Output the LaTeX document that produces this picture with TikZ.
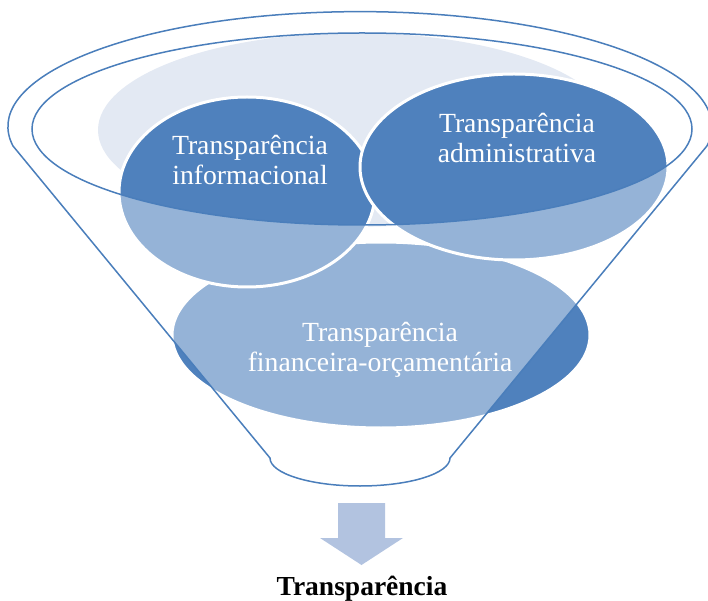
\documentclass[tikz,border=0pt]{standalone}
\usepackage{fontspec}
\setmainfont{Liberation Serif}
\usetikzlibrary{shapes.geometric, positioning}
\definecolor{funnelblue}{HTML}{4F81BD}
\definecolor{funnelline}{HTML}{4A7EBB}
\definecolor{funnelback}{HTML}{E3E9F3}
\definecolor{arrowblue}{HTML}{B2C3E0}

\begin{document}
\begin{tikzpicture}[
        x=1pt, y=1pt,
        bubble/.style={ellipse, fill=funnelblue, draw=white, line width=3pt, inner sep=0pt},
        bubble text/.style={text=white, align=center, inner sep=0pt, font=\fontsize{27.7}{30}\selectfont},
        rim/.style={draw=funnelline, line width=1.5pt}
      ]
      \useasboundingbox (0,0) rectangle (708,600);
      % Back of the funnel
      \fill[funnelback] (355,470) ellipse [x radius=257pt, y radius=97pt];

      % Bubbles
      \node[bubble, minimum width=418pt, minimum height=186pt] (fin) at (381,265) {};
      \node[bubble, minimum width=256pt, minimum height=190pt] (info) at (247,408) {};
      \node[bubble, minimum width=308pt, minimum height=186pt] (adm) at (514,433) {};

      % Funnel glass
      \fill[white, fill opacity=0.4, even odd rule]
        (13,454) arc[start angle=189.7, end angle=-9.7, x radius=352pt, y radius=115pt]
        -- (450,142) arc[start angle=0, end angle=-180, x radius=90pt, y radius=28pt] -- cycle
        (362,471) ellipse [x radius=330pt, y radius=96pt];
      \draw[rim]
        (13,454) arc[start angle=189.7, end angle=-9.7, x radius=352pt, y radius=115pt]
        -- (450,142) arc[start angle=0, end angle=-180, x radius=90pt, y radius=28pt] -- cycle;
      \draw[rim] (362,471) ellipse [x radius=330pt, y radius=96pt];

      % Labels
      \node[bubble text] (info text) at (250,439.5) {Transparência\\informacional};
      \node[bubble text] (adm text) at (517,461.5) {Transparência\\administrativa};
      \node[bubble text] (fin text) at (380,250) {Transparência\\financeira-orçamentária};

      % Result
      \fill[arrowblue] (338,97) -- (385,97) -- (385,62) -- (403,62) -- (361.5,35)
        -- (320,62) -- (338,62) -- cycle;
      \node[font=\fontsize{27.5}{30}\selectfont\bfseries, anchor=base, inner sep=0pt] (result) at (362,5) {Transparência};
    \end{tikzpicture}
\end{document}
